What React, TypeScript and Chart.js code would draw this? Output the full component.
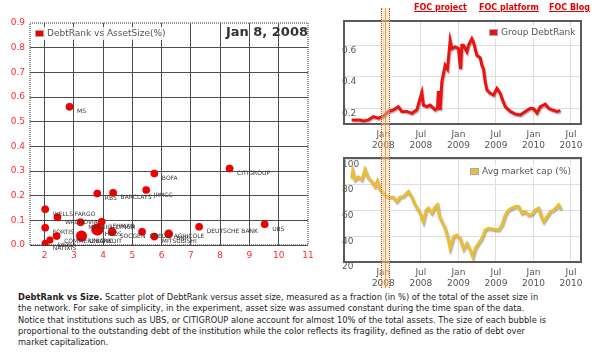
import React, { useEffect, useRef } from "react";
import { Chart, registerables } from "chart.js";
Chart.register(...registerables);

// ---- Scatter: DebtRank vs AssetSize(%) ----
const bankNames = ["MS", "CITIGROUP", "BOFA", "JPMCC", "BARCLAYS", "RBS", "WELLS FARGO", "WACHOVIA", "MERRILL LYNCH", "LEHMAN", "FORTIS", "COMMERZBANK", "DEXIA", "NATIXIS", "UNICREDIT", "HBOS", "SOCGEN", "CREDIT AGRICOLE", "BNP", "MITSUBISHI", "DEUTSCHE BANK", "UBS"];
const assetSize = [2.85, 8.32, 5.75, 5.47, 4.34, 3.8, 2.02, 2.44, 3.23, 3.95, 2.02, 2.41, 2.18, 2.02, 3.26, 3.8, 4.31, 5.33, 6.24, 5.75, 7.28, 9.52];
const debtRankValues = [0.56, 0.31, 0.29, 0.223, 0.212, 0.209, 0.145, 0.112, 0.092, 0.094, 0.07, 0.036, 0.02, 0.007, 0.036, 0.063, 0.054, 0.054, 0.045, 0.034, 0.074, 0.084];
const debtBubble = [3.8, 3.8, 3.8, 3.8, 3.8, 3.8, 3.8, 3.8, 3.8, 3.8, 3.8, 3.8, 3.5, 3.5, 5.5, 6, 4.3, 3.8, 4.3, 3.8, 3.8, 3.8];
const scatterXTicks = [2, 3, 4, 5, 6, 7, 8, 9, 10, 11];
const scatterYTicks = [0, 0.1, 0.2, 0.3, 0.4, 0.5, 0.6, 0.7, 0.8, 0.9];

// ---- Time series (x = months since Jan 2008) ----
const drMonths = [-5.06, -4.37, -3.73, -3.2, -2.4, -1.6, -0.8, 0, 0.8, 1.6, 2.4, 2.94, 3.75, 4.55, 5.35, 6.15, 6.4, 6.95, 7.48, 8.28, 8.65, 8.8, 9.08, 9.35, 9.88, 10.25, 10.68, 10.95, 11.48, 12.0, 12.2, 12.35, 12.55, 12.81, 13.35, 13.61, 14.15, 14.41, 14.95, 15.48, 15.75, 16.01, 16.28, 16.56, 17.09, 17.61, 18.16, 18.69, 18.96, 19.49, 20.29, 21.09, 21.89, 22.69, 23.49, 24.02, 24.56, 25.09, 25.89, 26.42, 26.97, 27.77, 28.3];
const drValues = [0.126, 0.126, 0.125, 0.12, 0.126, 0.147, 0.137, 0.15, 0.179, 0.19, 0.21, 0.18, 0.18, 0.168, 0.19, 0.3, 0.22, 0.21, 0.22, 0.19, 0.2, 0.31, 0.19, 0.368, 0.474, 0.45, 0.63, 0.58, 0.59, 0.58, 0.5, 0.45, 0.6, 0.6, 0.56, 0.6, 0.642, 0.62, 0.537, 0.52, 0.474, 0.45, 0.368, 0.316, 0.295, 0.284, 0.326, 0.295, 0.263, 0.21, 0.18, 0.163, 0.158, 0.18, 0.2, 0.197, 0.17, 0.21, 0.226, 0.2, 0.19, 0.18, 0.185];
const mcMonths = [-5.06, -4.9, -4.53, -4.0, -3.46, -2.93, -2.4, -1.86, -1.33, -0.96, -0.53, 0, 0.53, 1.07, 1.6, 2.14, 2.67, 3.2, 4.0, 4.55, 5.08, 5.88, 6.4, 6.84, 7.21, 7.75, 8.28, 8.65, 8.97, 9.35, 9.88, 10.41, 10.68, 11.21, 11.75, 12.28, 12.81, 13.35, 13.88, 14.31, 14.68, 15.21, 15.75, 16.28, 16.81, 17.61, 18.41, 18.96, 19.49, 20.02, 20.56, 21.09, 21.62, 22.16, 22.69, 23.22, 23.76, 24.29, 24.82, 25.36, 25.62, 26.16, 26.69, 27.22, 27.77, 28.02, 28.41];
const mcValues = [85.4, 90.6, 84, 86.2, 84, 91.9, 85.4, 82.7, 78.8, 83, 76.2, 73.6, 71, 70.5, 70.5, 67, 70.5, 71, 74.9, 70.5, 64.5, 58, 51.4, 60.5, 61.9, 58, 63, 64.5, 55.3, 51.4, 46.2, 37, 30.5, 39.6, 41, 38.4, 30, 34.4, 29.2, 24, 30.5, 34.4, 38.4, 44.9, 46.2, 45.5, 44.9, 48.8, 56.6, 60.5, 61.9, 63.2, 63.2, 58, 59.2, 56.6, 57.3, 60.5, 61.9, 54, 51.4, 55.3, 59.2, 60.5, 63.2, 64.5, 61];
const timeTickMonths = [0, 6, 12, 18, 24, 30];
const timeTickLabels = [["Jan", "2008"], ["Jul", "2008"], ["Jan", "2009"], ["Jul", "2009"], ["Jan", "2010"], ["Jul", "2010"]];
const drTicks = [0.2, 0.4, 0.6];
const mcTicks = [20, 40, 60, 80, 100];

const FONT = '"DejaVu Sans", Verdana, sans-serif';

const bubbleLabels = {
  id: "bubbleLabels",
  afterDatasetsDraw(chart: any) {
    const ctx = chart.ctx;
    const meta = chart.getDatasetMeta(0);
    ctx.save();
    ctx.font = `6px ${FONT}`;
    ctx.fillStyle = "#333";
    ctx.textAlign = "left";
    ctx.textBaseline = "middle";
    meta.data.forEach((el: any, i: number) => {
      ctx.fillText(bankNames[i], el.x + 7.5, el.y + 5);
    });
    ctx.restore();
  },
};

function framePlugin(color: string, width: number, dash: number[]) {
  return {
    id: "frame",
    afterDatasetsDraw(chart: any) {
      const { left, top, right, bottom } = chart.chartArea;
      const ctx = chart.ctx;
      ctx.save();
      ctx.strokeStyle = color;
      ctx.lineWidth = width;
      ctx.setLineDash(dash);
      ctx.strokeRect(left, top, right - left, bottom - top);
      ctx.restore();
    },
  };
}

const shadowPlugin = {
  id: "lineShadow",
  beforeDatasetDraw(chart: any) {
    const c = chart.ctx;
    c.save();
    c.shadowColor = "rgba(0,0,0,0.35)";
    c.shadowOffsetX = 0.8;
    c.shadowOffsetY = 1.2;
    c.shadowBlur = 1.5;
  },
  afterDatasetDraw(chart: any) {
    chart.ctx.restore();
  },
};

function ChartCanvas({ make, left, top, width, height }: any) {
  const ref = useRef<HTMLCanvasElement>(null);
  useEffect(() => {
    const chart = new Chart(ref.current as HTMLCanvasElement, make());
    return () => chart.destroy();
  }, []);
  return (
    <canvas
      ref={ref}
      width={width}
      height={height}
      style={{ position: "absolute", left, top, width, height }}
    />
  );
}

function makeScatter(): any {
  return {
    type: "bubble",
    data: {
      datasets: [
        {
          data: assetSize.map((x, i) => ({ x, y: debtRankValues[i], r: debtBubble[i] })),
          backgroundColor: "#ee0000",
          borderColor: "rgba(160,0,0,0.3)",
          borderWidth: 0.5,
        },
      ],
    },
    plugins: [bubbleLabels, framePlugin("#333", 1, [1, 1])],
    options: {
      animation: false,
      responsive: false,
      events: [],
      layout: { padding: { left: 0, top: 23, right: 22, bottom: 0 } },
      plugins: { legend: { display: false }, tooltip: { enabled: false } },
      scales: {
        x: {
          type: "linear",
          min: 1.5,
          max: 11,
          afterBuildTicks: (s: any) => {
            s.ticks = scatterXTicks.map((v) => ({ value: v }));
          },
          afterFit: (s: any) => {
            s.height = 25;
          },
          grid: {
            color: (c: any) => (c.tick && c.tick.value === 11 ? "rgba(0,0,0,0)" : "#4d4d4d"),
            drawTicks: false,
          },
          border: { display: false },
          ticks: { color: "#ff2a2a", font: { family: FONT, size: 9 }, padding: 5, autoSkip: false, maxRotation: 0 },
        },
        y: {
          min: 0,
          max: 0.9,
          afterBuildTicks: (s: any) => {
            s.ticks = scatterYTicks.map((v) => ({ value: v }));
          },
          afterFit: (s: any) => {
            s.width = 30;
          },
          grid: {
            color: (c: any) => (c.tick && Math.abs(c.tick.value - 0.9) < 1e-6 ? "rgba(0,0,0,0)" : "#4d4d4d"),
            drawTicks: false,
          },
          border: { display: false },
          ticks: {
            color: "#ff2a2a",
            font: { family: FONT, size: 9 },
            padding: 5,
            autoSkip: false,
            callback: (v: any) => Number(v).toFixed(1),
          },
        },
      },
    },
  };
}

function makeLine(months: number[], values: number[], color: string, yMin: number, yMax: number, yTicks: number[], yFmt: (v: number) => string, padTop: number): any {
  return {
    type: "line",
    data: {
      datasets: [
        {
          data: months.map((m, i) => ({ x: m, y: values[i] })),
          borderColor: color,
          borderWidth: 3,
          pointRadius: 0,
          tension: 0,
          fill: false,
        },
      ],
    },
    plugins: [shadowPlugin, framePlugin("#5a5a5a", 2, [])],
    options: {
      animation: false,
      responsive: false,
      events: [],
      layout: { padding: { left: 0, top: padTop, right: 19, bottom: 0 } },
      plugins: { legend: { display: false }, tooltip: { enabled: false } },
      scales: {
        x: {
          type: "linear",
          min: -6.29,
          max: 31.6,
          afterBuildTicks: (s: any) => {
            s.ticks = timeTickMonths.map((v) => ({ value: v }));
          },
          afterFit: (s: any) => {
            s.height = 28;
          },
          grid: { color: "#dedede", drawTicks: false },
          border: { display: false },
          ticks: {
            color: "#545454",
            font: { family: FONT, size: 9, lineHeight: 1.2 },
            padding: 5,
            autoSkip: false,
            maxRotation: 0,
            callback: (_v: any, i: number) => timeTickLabels[i],
          },
        },
        y: {
          min: yMin,
          max: yMax,
          afterBuildTicks: (s: any) => {
            s.ticks = yTicks.map((v) => ({ value: v }));
          },
          afterFit: (s: any) => {
            s.width = 14;
          },
          grid: { color: "#dedede", drawTicks: false },
          border: { display: false },
          ticks: {
            mirror: true,
            padding: -2,
            labelOffset: 5,
            color: "#545454",
            font: { family: FONT, size: 9 },
            autoSkip: false,
            callback: (v: any) => yFmt(Number(v)),
          },
        },
      },
    },
  };
}

function LegendBox({ left, top, color, text }: any) {
  return (
    <div
      style={{
        position: "absolute",
        left,
        top,
        display: "flex",
        alignItems: "center",
        background: "rgba(255,255,255,0.85)",
        padding: "1px 2px",
        font: `9px ${FONT}`,
        color: "#545454",
        whiteSpace: "nowrap",
        lineHeight: "11px",
      }}
    >
      <div style={{ width: 9, height: 7, boxSizing: "border-box", border: "1px solid #aaa", padding: 0, marginRight: 3 }}>
        <div style={{ width: "100%", height: "100%", background: color }} />
      </div>
      <span>{text}</span>
    </div>
  );
}

export default function App() {
  const link = {
    position: "absolute" as const,
    top: 2,
    font: `bold 8px ${FONT}`,
    lineHeight: "11px",
    color: "#e00000",
    textDecoration: "underline",
    whiteSpace: "nowrap" as const,
  };
  const capLine = { whiteSpace: "nowrap" as const };
  return (
    <div style={{ position: "absolute", left: 0, top: 0, width: 600, height: 354, overflow: "hidden", background: "#fff", fontFamily: FONT }}>
      <ChartCanvas make={makeScatter} left={0} top={0} width={330} height={270} />
      <ChartCanvas
        make={() => makeLine(drMonths, drValues, "#ee1111", 0.1, 0.755, drTicks, (v) => v.toFixed(1), 21)}
        left={330}
        top={0}
        width={270}
        height={152}
      />
      <ChartCanvas
        make={() => makeLine(mcMonths, mcValues, "#e8bd3a", 20, 101, mcTicks, (v) => String(v), 6)}
        left={330}
        top={152}
        width={270}
        height={138}
      />

      <LegendBox left={33} top={27} color="#ee0000" text="DebtRank vs AssetSize(%)" />
      <div style={{ position: "absolute", left: 190, top: 24, width: 118, textAlign: "right", font: `bold 13px ${FONT}`, lineHeight: "15px", color: "#333", whiteSpace: "nowrap" }}>
        Jan 8, 2008
      </div>
      <LegendBox left={487} top={26} color="#ee1111" text="Group DebtRank" />
      <LegendBox left={468} top={165} color="#e8bd3a" text="Avg market cap (%)" />

      <span style={{ ...link, left: 414 }}>FOC project</span>
      <span style={{ ...link, left: 479 }}>FOC platform</span>
      <span style={{ ...link, left: 549 }}>FOC Blog</span>

      <div
        style={{
          position: "absolute",
          left: 380.5,
          top: 8,
          width: 9,
          height: 280,
          boxSizing: "border-box",
          background: "rgba(246,214,150,0.45)",
          borderLeft: "1px dotted #e33",
          borderRight: "1px dotted #e33",
        }}
      >
        <div style={{ position: "absolute", left: 3, top: 0, width: 1, height: "100%", background: "rgba(190,140,60,0.7)" }} />
      </div>

      <div style={{ position: "absolute", left: 18, top: 292, font: `8.3px ${FONT}`, lineHeight: "11.3px", color: "#222" }}>
        <div style={capLine}>
          <b>DebtRank vs Size.</b> Scatter plot of DebtRank versus asset size, measured as a fraction (in %) of the total of the asset size in
        </div>
        <div style={capLine}>the network. For sake of simplicity, in the experiment, asset size was assumed constant during the time span of the data.</div>
        <div style={capLine}>Notice that institutions such as UBS, or CITIGROUP alone account for almost 10% of the total assets. The size of each bubble is</div>
        <div style={capLine}>proportional to the outstanding debt of the institution while the color reflects its fragility, defined as the ratio of debt over</div>
        <div style={capLine}>market capitalization.</div>
      </div>
    </div>
  );
}
